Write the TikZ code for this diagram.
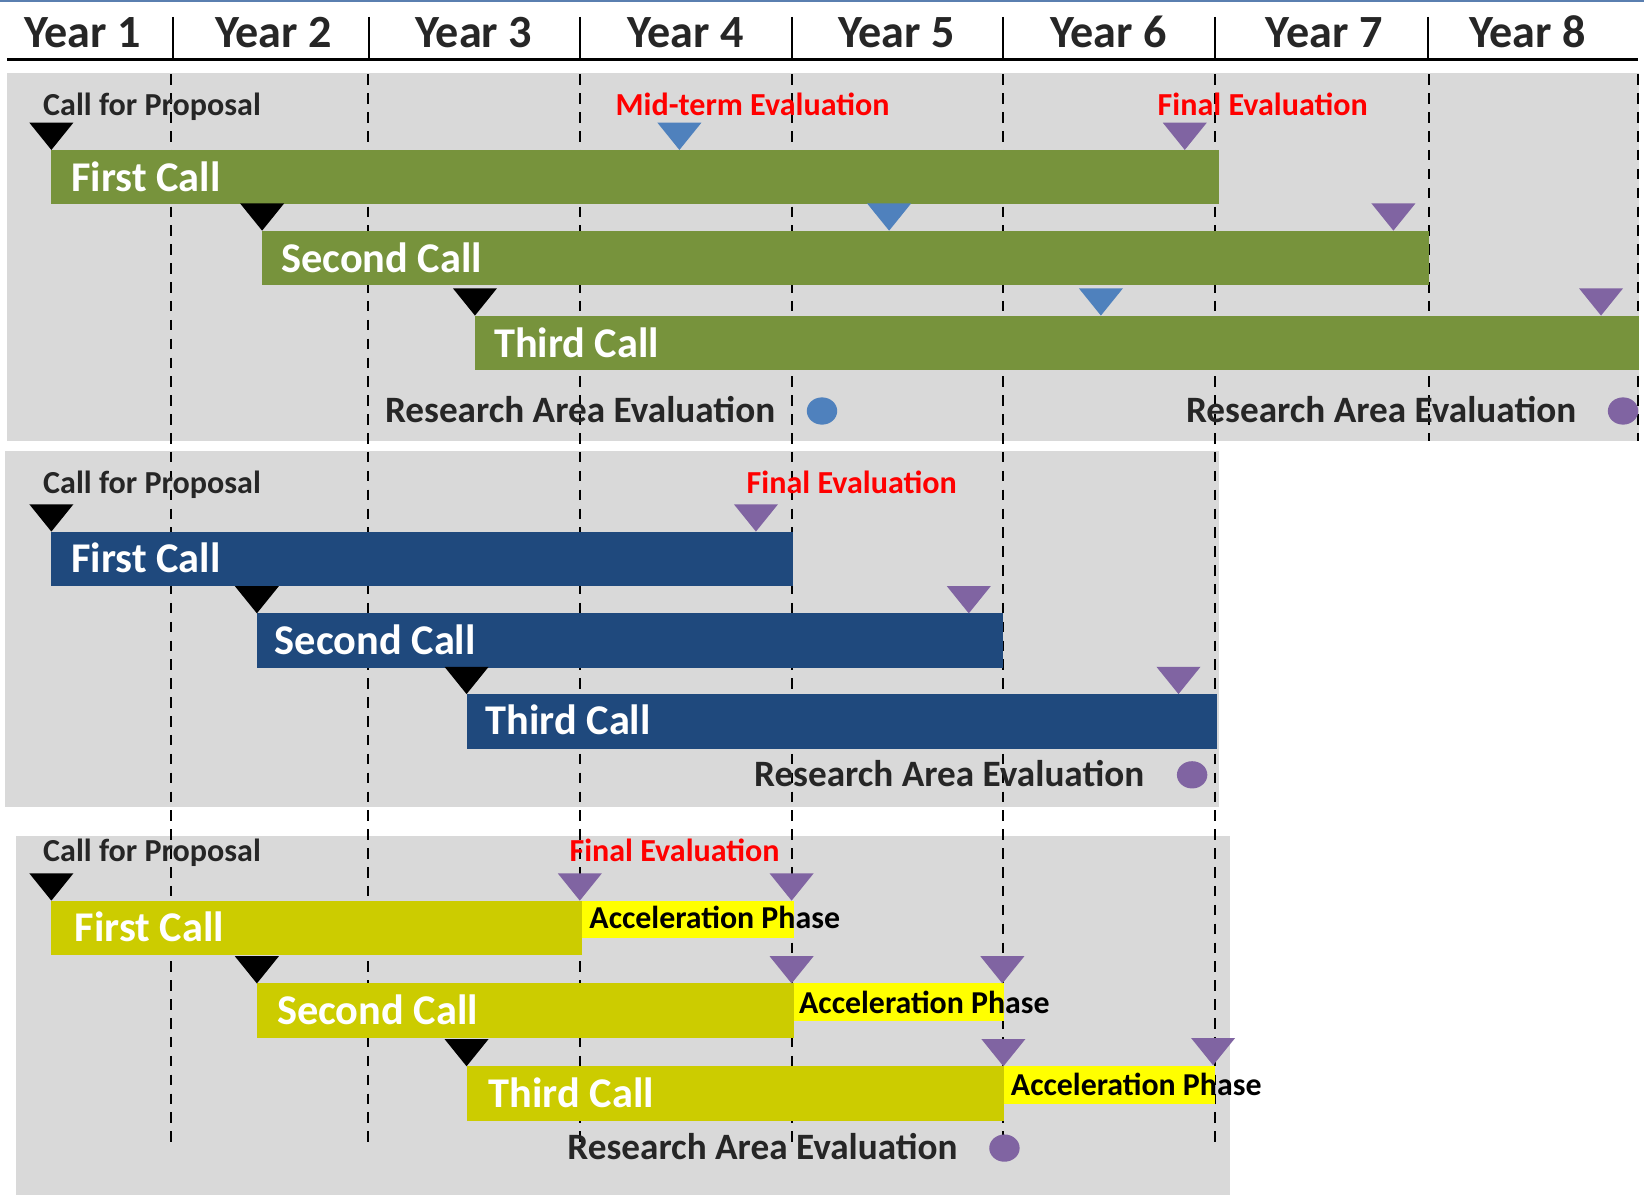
\documentclass[tikz,border=0pt]{standalone}
\usepackage{fontspec}
\usetikzlibrary{shapes.geometric}
\setmainfont{Carlito}
\definecolor{panelgray}{HTML}{D9D9D9}
\definecolor{labelgray}{HTML}{262626}
\definecolor{greenbar}{HTML}{77933C}
\definecolor{navybar}{HTML}{1F497D}
\definecolor{olivebar}{HTML}{CCCC00}
\definecolor{accyellow}{HTML}{FFFF00}
\definecolor{mblue}{HTML}{4F81BD}
\definecolor{mpurple}{HTML}{8064A2}
\definecolor{topline}{HTML}{5A7FB0}
\newcommand\mktri[3]{\fill[#3] (#1-21,#2-26) -- (#1+21,#2-26) -- (#1,#2) -- cycle;}
\begin{document}
\begin{tikzpicture}[x=1pt,y=-1pt,
  yearlbl/.style={anchor=base,inner sep=0,font=\fontsize{44}{52}\selectfont\bfseries,text=labelgray},
  cfp/.style={anchor=base west,inner sep=0,font=\fontsize{30.6}{36}\selectfont\bfseries,text=labelgray},
  evallbl/.style={anchor=base west,inner sep=0,font=\fontsize{30.6}{36}\selectfont\bfseries,text=red},
  raelbl/.style={anchor=base west,inner sep=0,font=\fontsize{35.5}{42}\selectfont\bfseries,text=labelgray},
  calltxt/.style={anchor=base west,inner sep=0,font=\fontsize{40.4}{48}\selectfont\bfseries,text=white},
  acctxt/.style={anchor=base west,inner sep=0,font=\fontsize{30.4}{36}\selectfont\bfseries,text=black},
  bar/.style={anchor=north west,inner sep=0,outer sep=0,minimum height=52pt},
  accbox/.style={anchor=north west,inner sep=0,outer sep=0,minimum height=36pt,fill=accyellow},
  grid/.style={black,line width=2pt,dash pattern=on 10pt off 8pt},
  dot/.style={ellipse,inner sep=0,minimum width=29pt,minimum height=26pt},
]
\useasboundingbox (0,0) rectangle (1568,1141);
\fill[white] (0,0) rectangle (1568,1141);
% top line
\draw[topline,line width=2pt] (0,1) -- (1568,1);
% header
\foreach \x/\n in {78.5/1,261/2,452/3,654/4,855/5,1057/6,1263/7,1457/8}
  \node[yearlbl] (y\n) at (\x,45) {Year \n};
\draw[black,line width=2.5pt] (7,57) -- (1562,57);
\foreach \x in {165,352,553,755,957,1159,1362}
  \draw[black,line width=2pt] (\x,16) -- (\x,57);
% panels
\fill[panelgray] (7,70) rectangle (1563,421);
\fill[panelgray] (5,430) rectangle (1163,770);
\fill[panelgray] (15,797) rectangle (1173,1140);
% dashed grid
\foreach \x in {163,351,553,755,957,1159}
  \draw[grid] (\x,71) -- (\x,1090);
\foreach \x in {1363,1562}
  \draw[grid] (\x,71) -- (\x,421);

% ---------- panel 1 ----------
\node[cfp] (cfp1) at (41,110) {Call for Proposal};
\node[evallbl] (mid1) at (587,110) {Mid-term Evaluation};
\node[evallbl] (fin1) at (1104,110) {Final Evaluation};
\node[bar,fill=greenbar,minimum width=1114pt] (g1) at (49,143) {};
\node[bar,fill=greenbar,minimum width=1113pt] (g2) at (250,220) {};
\node[bar,fill=greenbar,minimum width=1110pt] (g3) at (453,301) {};
\node[calltxt] (g1t) at (68,183) {First Call};
\node[calltxt] (g2t) at (268,260) {Second Call};
\node[calltxt] (g3t) at (471,341) {Third Call};
\mktri{49}{143}{black}
\mktri{250}{220}{black}
\mktri{453}{301}{black}
\mktri{648}{143}{mblue}
\mktri{848}{220}{mblue}
\mktri{1050}{301}{mblue}
\mktri{1130}{143}{mpurple}
\mktri{1329}{220}{mpurple}
\mktri{1527}{301}{mpurple}
\node[raelbl] (rae1a) at (367,403) {Research Area Evaluation};
\node[dot,fill=mblue] (d1a) at (784,392) {};
\node[raelbl] (rae1b) at (1131,403) {Research Area Evaluation};
\begin{scope}
\clip (1400,360) rectangle (1563,421);
\node[dot,fill=mpurple] (d1b) at (1548,392) {};
\end{scope}

% ---------- panel 2 ----------
\node[cfp] (cfp2) at (41,471) {Call for Proposal};
\node[evallbl] (fin2) at (712,471) {Final Evaluation};
\node[bar,fill=navybar,minimum width=707pt] (n1) at (49,507) {};
\node[bar,fill=navybar,minimum width=712pt] (n2) at (245,585) {};
\node[bar,fill=navybar,minimum width=716pt] (n3) at (445,662) {};
\node[calltxt] (n1t) at (68,546) {First Call};
\node[calltxt] (n2t) at (262,624) {Second Call};
\node[calltxt] (n3t) at (463,701) {Third Call};
\mktri{49}{507}{black}
\mktri{245}{585}{black}
\mktri{445}{662}{black}
\mktri{721}{507}{mpurple}
\mktri{924}{585}{mpurple}
\mktri{1124}{662}{mpurple}
\node[raelbl] (rae2) at (719,750) {Research Area Evaluation};
\node[dot,fill=mpurple] (d2) at (1137,739) {};

% ---------- panel 3 ----------
\node[cfp] (cfp3) at (41,822) {Call for Proposal};
\node[evallbl] (fin3) at (543,822) {Final Evaluation};
\node[bar,fill=olivebar,minimum width=506pt] (o1) at (49,859) {};
\node[bar,fill=olivebar,minimum width=512pt] (o2) at (245,938) {};
\node[bar,fill=olivebar,minimum width=513pt] (o3) at (445,1017) {};
\node[accbox,minimum width=202pt] (a1) at (o1.north east) {};
\node[accbox,minimum width=201pt] (a2) at (o2.north east) {};
\node[accbox,minimum width=201pt] (a3) at (o3.north east) {};
\node[calltxt] (o1t) at (71,898) {First Call};
\node[calltxt] (o2t) at (264,977) {Second Call};
\node[calltxt] (o3t) at (466,1056) {Third Call};
\node[acctxt] (a1t) at (562,886) {Acceleration Phase};
\node[acctxt] (a2t) at (762,967) {Acceleration Phase};
\node[acctxt] (a3t) at (964,1045) {Acceleration Phase};
\mktri{49}{859}{black}
\mktri{245}{938}{black}
\mktri{445}{1017}{black}
\mktri{553}{859}{mpurple}
\mktri{755}{859}{mpurple}
\mktri{755}{938}{mpurple}
\mktri{956}{938}{mpurple}
\mktri{957}{1017}{mpurple}
\mktri{1157}{1016}{mpurple}
\node[raelbl] (rae3) at (541,1106) {Research Area Evaluation};
\node[dot,fill=mpurple] (d3) at (958,1095) {};
\end{tikzpicture}
\end{document}
